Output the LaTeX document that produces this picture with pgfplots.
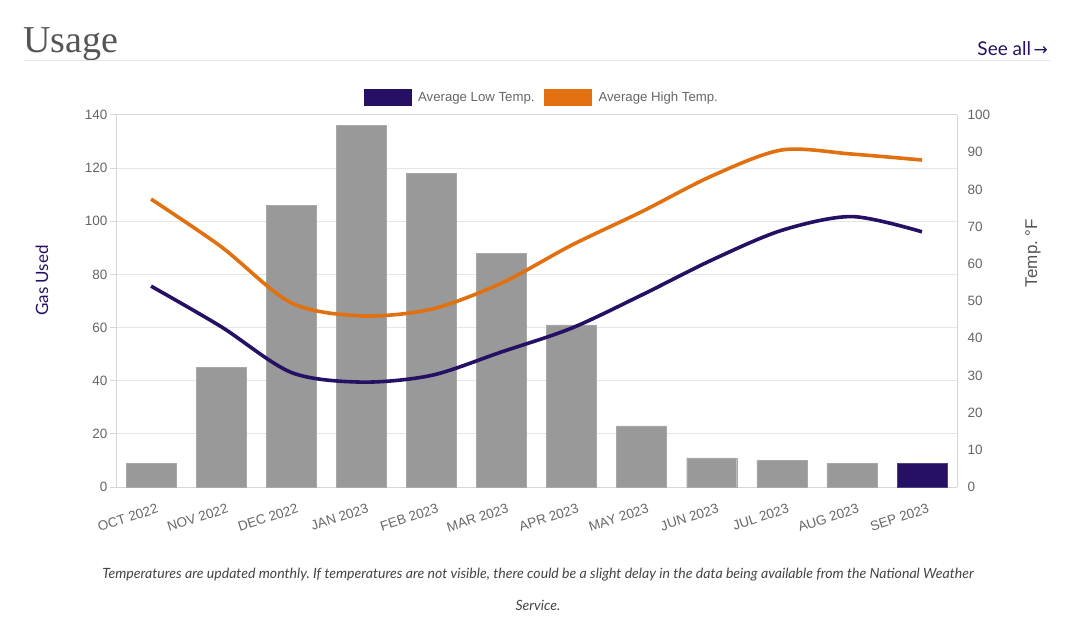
\documentclass[border=0pt]{standalone}
\usepackage{fontspec}
\setmainfont{Liberation Sans}
\newfontfamily\lato{Lato}
\newfontfamily\titlefont{Liberation Serif}
\newfontfamily\djv{DejaVu Sans}
\usepackage{pgfplots}
\pgfplotsset{compat=1.18}
\definecolor{navy}{RGB}{38,16,100}
\definecolor{orng}{RGB}{224,112,16}
\definecolor{barg}{RGB}{153,153,153}
\definecolor{tickg}{RGB}{102,102,102}
\definecolor{gridg}{RGB}{229,229,229}
\definecolor{axg}{RGB}{214,214,214}
\definecolor{titleg}{RGB}{85,85,85}
\definecolor{capg}{RGB}{68,68,68}
\frenchspacing
\begin{document}
\begin{tikzpicture}[x=1pt,y=1pt]
\path[use as bounding box] (0,0) rectangle (1083,627);
% header
\node[anchor=base west, inner sep=0pt, text=titleg, font=\titlefont\fontsize{38}{42}\selectfont] at (23,574) {Usage};
\draw[color=gridg, line width=1pt] (24,566) -- (1050,566);
\node[anchor=base east, inner sep=0pt, text=navy, font=\lato\fontsize{19}{21}\selectfont] at (1048,571) {See all\kern2.5pt{\djv\fontsize{17}{19}\selectfont →}};
% caption
\node[anchor=base, inner sep=0pt, text=capg, font=\lato\itshape\fontsize{14.1}{16}\selectfont] at (538,49) {Temperatures are updated monthly. If temperatures are not visible, there could be a slight delay in the data being available from the National Weather};
\node[anchor=base, inner sep=0pt, text=capg, font=\lato\itshape\fontsize{14.1}{16}\selectfont] at (538,17) {Service.};
\begin{axis}[
  at={(116pt,140pt)}, anchor=south west, scale only axis,
  width=841pt, height=372pt,
  xmin=-0.5, xmax=11.5, ymin=0, ymax=140,
  ytick={0,20,...,140},
  xtick={0,...,11},
  xticklabels={OCT 2022,NOV 2022,DEC 2022,JAN 2023,FEB 2023,MAR 2023,APR 2023,MAY 2023,JUN 2023,JUL 2023,AUG 2023,SEP 2023},
  ymajorgrids, grid style={color=gridg, line width=1pt},
  axis line style={color=axg, line width=1pt},
  axis y line*=left, axis x line*=bottom,
  x axis line style={-}, y axis line style={-},
  ytick style={color=axg, line width=1pt},
  xtick style={draw=none},
  tick align=outside,
  major tick length=6pt,
  /pgf/number format/assume math mode=true,
  yticklabel style={text=tickg, font=\fontsize{13.5}{15}\selectfont, xshift=1pt},
  xticklabel style={text=tickg, font=\fontsize{13.5}{15}\selectfont, rotate=18, anchor=north east, xshift=5pt, yshift=-8pt},
  ylabel={Gas Used},
  ylabel style={at={(axis description cs:-0.088,0.555)}, anchor=center, rotate=0, text=navy, font=\lato\fontsize{17}{19}\selectfont},
  ybar, bar width=50pt, bar shift=0pt,
]
\addplot[fill=barg, draw=barg!85!white] coordinates {(0,9) (1,45) (2,106) (3,136) (4,118) (5,88) (6,61) (7,23) (8,11) (9,10) (10,9)};
\addplot[fill=navy, draw=navy!80!white] coordinates {(11,9)};
\draw[color=axg, line width=1pt] (axis cs:-0.5,140) -- (axis cs:11.5,140);
\end{axis}
\begin{axis}[
  at={(116pt,140pt)}, anchor=south west, scale only axis,
  width=841pt, height=372pt,
  xmin=-0.5, xmax=11.5, ymin=0, ymax=100,
  ytick={0,10,...,100},
  axis y line*=right, axis x line=none,
  y axis line style={-, color=axg, line width=1pt},
  ytick style={draw=none},
  /pgf/number format/assume math mode=true,
  yticklabel style={text=tickg, font=\fontsize{13.5}{15}\selectfont, xshift=7pt},
  ylabel={Temp. °F},
  ylabel style={at={(axis description cs:1.0904,0.629)}, anchor=center, rotate=0, text=titleg, font=\fontsize{17}{19}\selectfont},
  legend style={at={(axis description cs:0.5,1)}, anchor=south, yshift=9pt, draw=none, fill=none, inner sep=0pt,
    font=\fontsize{13.2}{15}\selectfont, text=tickg,
    nodes={inner sep=0pt},
    /tikz/every odd column/.append style={column sep=-2pt},
    /tikz/every even column/.append style={column sep=1pt}},
  legend columns=2,
  legend image code/.code={\draw[#1, line width=17pt] (0pt,0pt) -- (48pt,0pt);},
]
\addplot[navy, line width=3.6pt, smooth, tension=0.5] coordinates {(0,54) (1,43.1) (2,30.8) (3,28.2) (4,30) (5,36.3) (6,42.7) (7,51.6) (8,61) (9,69) (10,72.7) (11,68.6)};
\addlegendentry{Average Low Temp.}
\addplot[orng, line width=3.6pt, smooth, tension=0.5] coordinates {(0,77.4) (1,64.6) (2,49.5) (3,46) (4,47.8) (5,54.8) (6,65) (7,74) (8,83.6) (9,90.6) (10,89.5) (11,87.9)};
\addlegendentry{Average High Temp.}
\end{axis}
\end{tikzpicture}
\end{document}
